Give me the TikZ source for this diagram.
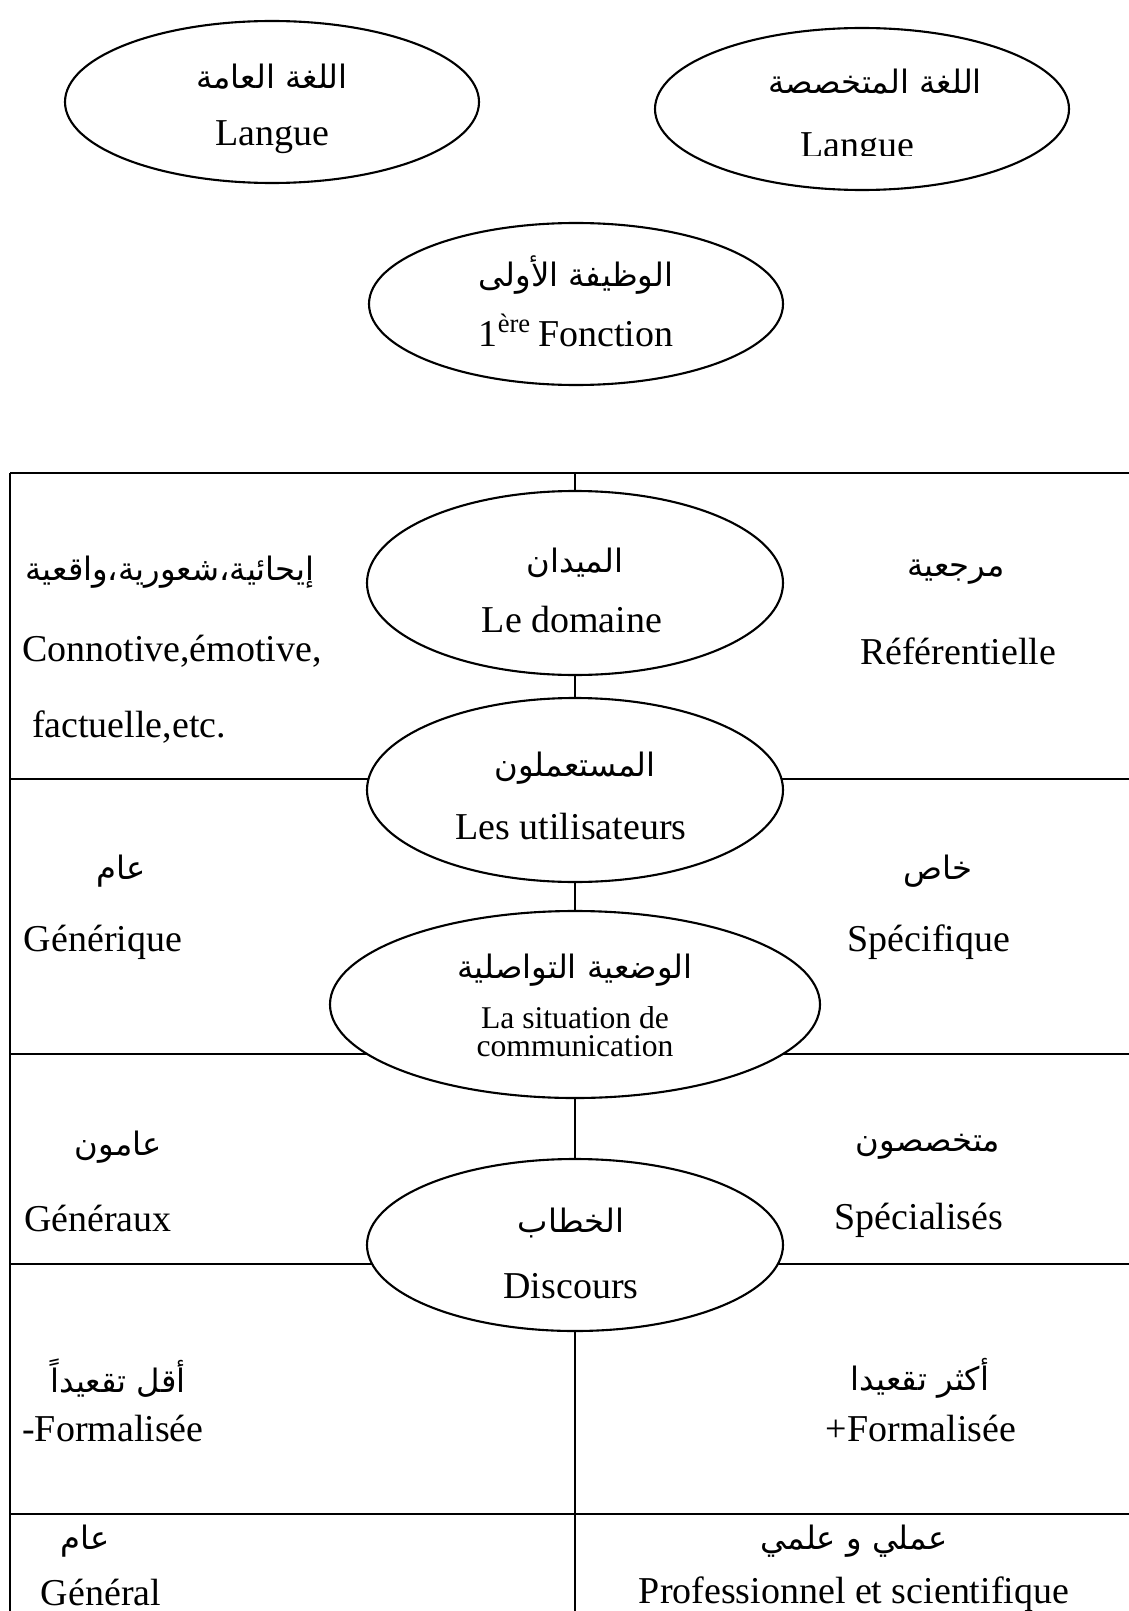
\documentclass[tikz,border=0pt]{standalone}
\usepackage{fontspec}
\setmainfont{Liberation Serif}
\newfontfamily\arabicfont[Script=Arabic,Scale=0.85]{DejaVu Sans}
\TeXXeTstate=1
\usetikzlibrary{shapes.geometric,backgrounds}

\newcommand{\artext}[1]{\beginR #1\endR}

\tikzset{
  bubble/.style={draw, ellipse, line width=0.6pt, fill=white, inner sep=0pt,
    minimum width=4.14cm, minimum height=1.62cm},
  fr/.style={inner sep=0pt, font=\fontsize{10.8}{13}\selectfont},
  frsmall/.style={inner sep=0pt, font=\fontsize{9}{10.5}\selectfont},
  ar/.style={inner sep=0pt, font=\fontsize{10.8}{13}\selectfont\arabicfont},
  rule/.style={line width=0.6pt}
}

\begin{document}
\begin{tikzpicture}
\useasboundingbox (0,0) rectangle (11.29,-16.11);

% top ellipses
\node[bubble] (general) at (2.72,-1.02) {};
\node[bubble] (special) at (8.62,-1.09) {};
\node[bubble] (fonction) at (5.76,-3.04) {};

\node[ar] (generalAr) at (2.72,-0.77) {\artext{اللغة العامة}};
\node[fr] (generalFr) at (2.72,-1.37) {Langue};
\node[ar] (specialAr) at (8.75,-0.82) {\artext{اللغة المتخصصة}};
\begin{scope}
  \clip (7.6,-1.2) rectangle (9.6,-1.56);
  \node[fr, anchor=base] (specialFr) at (8.57,-1.58) {Langue};
\end{scope}
\node[ar] (fonctionAr) at (5.76,-2.75) {\artext{الوظيفة الأولى}};
\node[fr] (fonctionFr) at (5.76,-3.30) {1\textsuperscript{ère}\,Fonction};

% table ellipses
\node[bubble, minimum width=4.16cm, minimum height=1.84cm] (domaine) at (5.75,-5.83) {};
\node[bubble, minimum width=4.16cm, minimum height=1.84cm] (users) at (5.75,-7.90) {};
\node[bubble, minimum width=4.9cm, minimum height=1.87cm] (situation) at (5.75,-10.045) {};
\node[bubble, minimum width=4.16cm, minimum height=1.72cm] (discours) at (5.75,-12.45) {};

\coordinate (tabletop) at (5.75,-4.726);
\coordinate (tablebot) at (5.75,-16.11);

% table lines
\begin{scope}[on background layer]
  \draw[rule] (0.1,-4.726) -- (11.29,-4.726);
  \draw[rule] (0.1,-4.726) -- (0.1,-16.11);
  \foreach \y in {-7.787,-10.54,-12.64,-15.14}
    \draw[rule] (0.1,\y) -- (11.29,\y);
  \draw[rule] (tabletop) -- (domaine.north);
  \draw[rule] (domaine.south) -- (users.north);
  \draw[rule] (users.south) -- (situation.north);
  \draw[rule] (situation.south) -- (discours.north);
  \draw[rule] (discours.south) -- (tablebot);
\end{scope}

% ellipse labels
\node[ar] (domaineAr) at (5.75,-5.63) {\artext{الميدان}};
\node[fr] (domaineFr) at (5.72,-6.20) {Le domaine};
\node[ar] (usersAr) at (5.75,-7.68) {\artext{المستعملون}};
\node[fr] (usersFr) at (5.71,-8.27) {Les utilisateurs};
\node[ar] (situationAr) at (5.75,-9.70) {\artext{الوضعية التواصلية}};
\node[frsmall] (situationFr1) at (5.75,-10.18) {La situation de};
\node[frsmall] (situationFr2) at (5.75,-10.46) {communication};
\node[ar] (discoursAr) at (5.71,-12.23) {\artext{الخطاب}};
\node[fr] (discoursFr) at (5.71,-12.86) {Discours};

% row 1
\node[ar] (r1lAr) at (1.70,-5.72) {\artext{إيحائية،شعورية،واقعية}};
\node[fr] (r1lFr) at (1.72,-6.51) {Connotive,émotive,};
\node[fr] (r1lFrb) at (1.29,-7.27) {factuelle,etc.};
\node[ar] (r1rAr) at (9.56,-5.72) {\artext{مرجعية}};
\node[fr] (r1rFr) at (9.58,-6.51) {Référentielle};
% row 2
\node[ar] (r2lAr) at (1.21,-8.71) {\artext{عام}};
\node[fr] (r2lFr) at (1.03,-9.42) {Générique};
\node[ar] (r2rAr) at (9.38,-8.71) {\artext{خاص}};
\node[fr] (r2rFr) at (9.29,-9.42) {Spécifique};
% row 3
\node[ar] (r3lAr) at (1.18,-11.47) {\artext{عامون}};
\node[fr] (r3lFr) at (0.98,-12.18) {Généraux};
\node[ar] (r3rAr) at (9.28,-11.47) {\artext{متخصصون}};
\node[fr] (r3rFr) at (9.19,-12.2) {Spécialisés};
% row 4
\node[ar] (r4lAr) at (1.18,-13.78) {\artext{أقل تقعيداً}};
\node[fr] (r4lFr) at (1.13,-14.28) {-Formalisée};
\node[ar] (r4rAr) at (9.2,-13.78) {\artext{أكثر تقعيدا}};
\node[fr] (r4rFr) at (9.21,-14.28) {+Formalisée};
% row 5
\node[ar] (r5lAr) at (0.85,-15.41) {\artext{عام}};
\node[fr] (r5lFr) at (1.01,-15.92) {Général};
\node[ar] (r5rAr) at (8.54,-15.41) {\artext{عملي و علمي}};
\node[fr] (r5rFr) at (8.54,-15.94) {Professionnel et scientifique};
\end{tikzpicture}
\end{document}
